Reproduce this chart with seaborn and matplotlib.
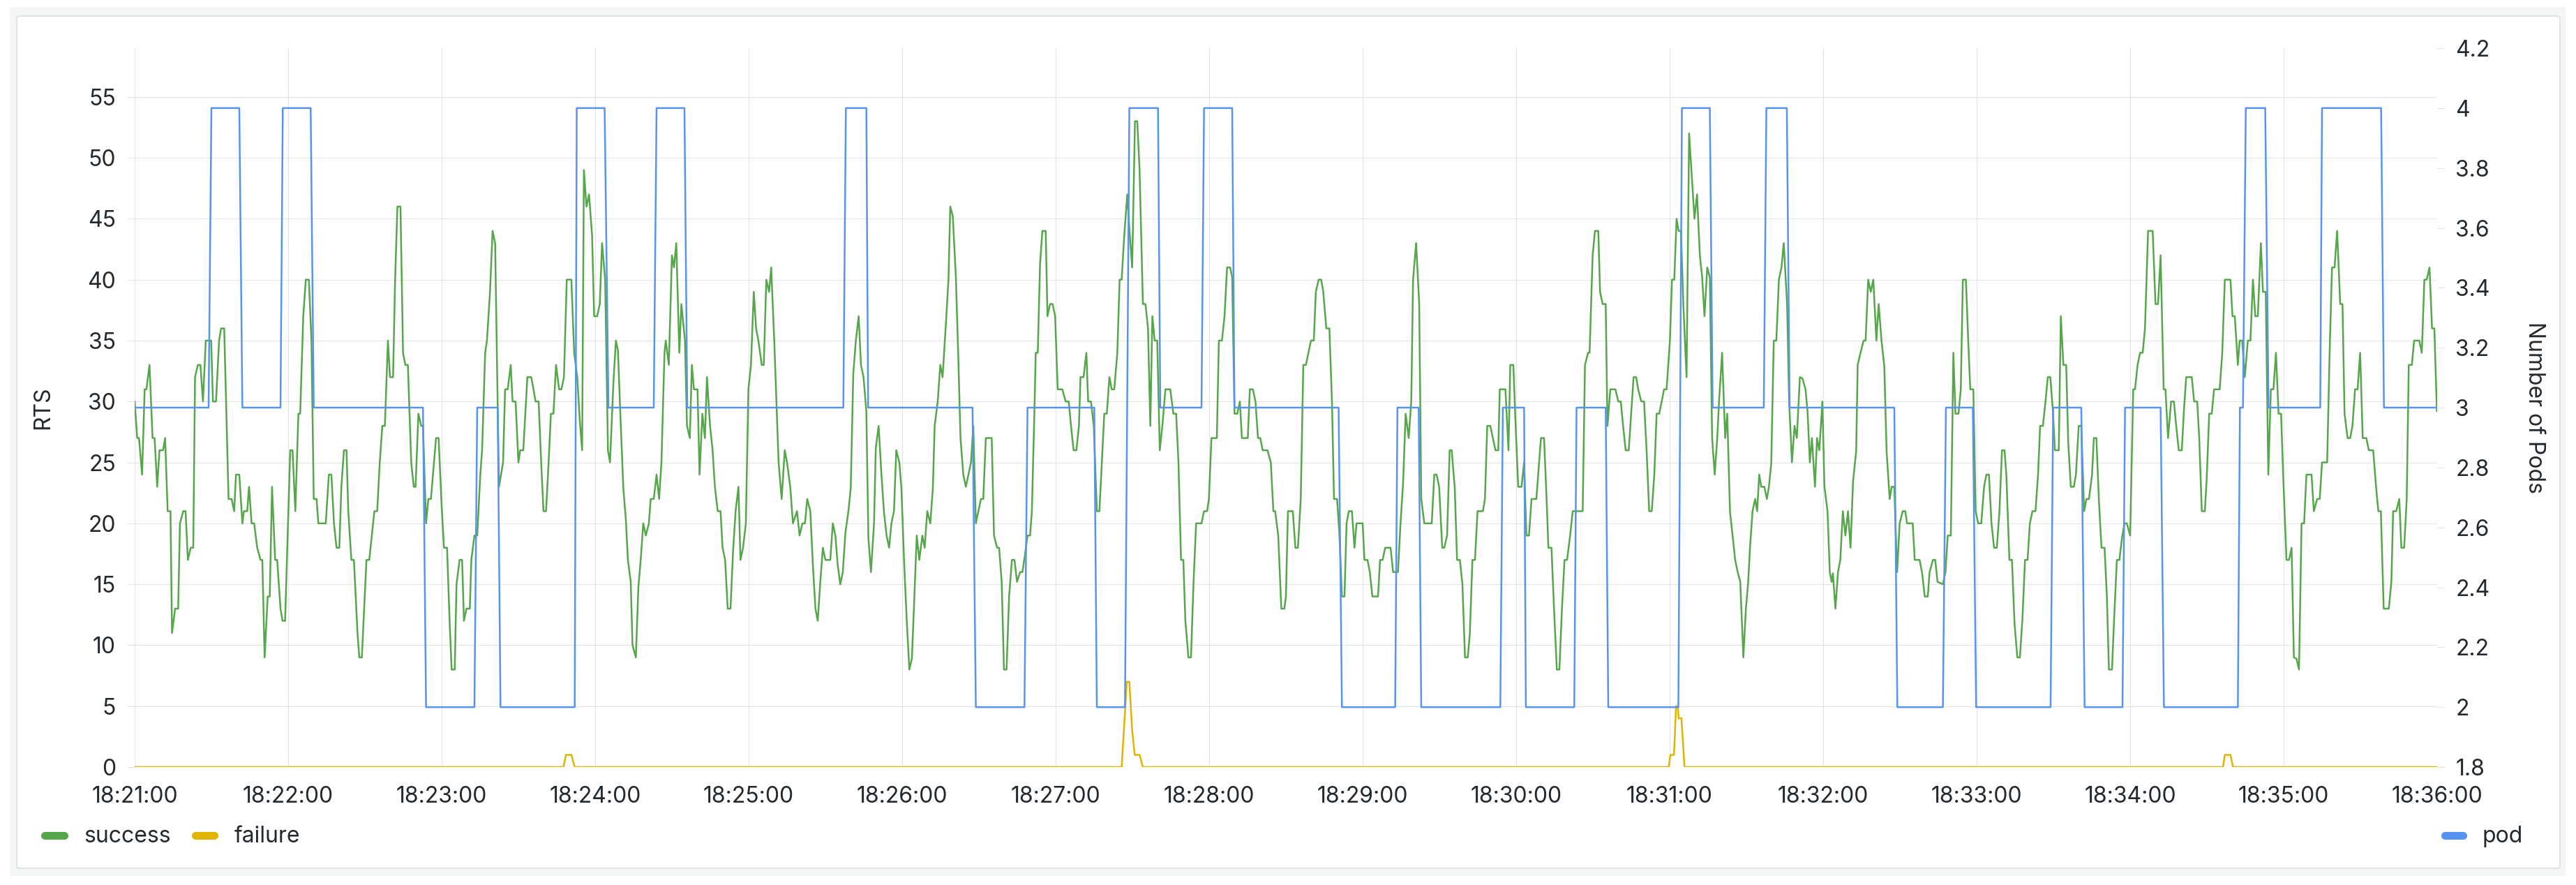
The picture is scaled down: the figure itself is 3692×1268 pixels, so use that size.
import numpy as np
import pandas as pd
import matplotlib
matplotlib.use("Agg")
import matplotlib.pyplot as plt
import matplotlib.dates as mdates
from matplotlib.patches import FancyBboxPatch
from matplotlib.lines import Line2D
from matplotlib.ticker import FixedLocator, FuncFormatter
import seaborn as sns

# ---- data (seconds after 18:21:00) ----
success_sec = [
    0.0, 1.0, 1.7, 2.9, 3.9, 4.6, 5.8, 7.0, 7.8, 8.8, 9.7, 11.1, 11.9, 12.9, 14.0, 14.6,
    15.8, 17.0, 17.7, 19.0, 19.9, 20.8, 21.9, 22.9, 23.6, 24.7, 25.7, 26.7, 27.8, 29.9,
    30.6, 31.8, 33.0, 33.8, 35.0, 36.7, 37.9, 38.9, 39.6, 40.9, 42.1, 42.7, 44.0, 44.7,
    45.7, 46.7, 47.9, 49.2, 49.9, 50.8, 52.0, 52.8, 53.7, 54.9, 55.7, 57.0, 57.8, 58.8,
    60.8, 61.7, 62.8, 64.0, 64.7, 65.9, 66.9, 68.1, 69.1, 70.0, 71.1, 71.8, 74.7, 75.9,
    76.9, 77.9, 78.9, 80.0, 80.8, 81.8, 82.8, 83.5, 84.7, 85.7, 87.1, 87.8, 88.8, 90.6,
    91.7, 92.7, 93.7, 94.8, 95.8, 96.8, 97.8, 99.0, 99.8, 101.0, 101.8, 102.7, 103.9,
    104.9, 105.8, 106.8, 108.1, 109.1, 109.8, 110.9, 112.0, 112.7, 113.9, 114.8, 115.8,
    117.0, 117.8, 118.8, 120.0, 120.9, 122.1, 123.1, 123.9, 125.1, 125.8, 127.0, 128.0,
    128.7, 129.7, 131.0, 131.6, 132.8, 133.9, 135.1, 135.8, 137.0, 137.7, 138.9, 139.9,
    140.9, 142.4, 144.0, 144.8, 145.8, 147.0, 147.7, 148.9, 150.0, 150.7, 151.9,
    153.5, 155.0, 155.9, 156.7, 157.9, 158.9, 159.8, 160.8, 161.8, 162.7, 163.7, 164.7,
    165.9, 166.8, 167.8, 168.9, 170.7, 171.8, 173.0, 174.0, 174.9, 175.6, 176.6, 177.6,
    178.8, 179.6, 180.8, 181.8, 182.7, 183.9, 185.0, 185.8, 187.1, 188.1, 188.9, 189.8,
    191.0, 192.0, 192.8, 193.9, 194.6, 195.9, 196.9, 197.8, 198.8, 199.8, 201.0, 201.7,
    202.9, 204.0, 205.0, 205.9, 207.1, 207.6, 208.8, 210.0, 210.8, 211.7, 212.9, 213.7,
    215.1, 215.9, 217.0, 217.8, 218.6, 220.0, 220.8, 221.9, 222.9, 223.7, 224.9, 225.9,
    226.8, 227.9, 229.0, 229.8, 230.8, 231.8, 232.9, 233.9, 234.9, 236.0, 236.8, 237.8,
    238.9, 239.9, 240.9, 242.0, 242.9, 243.8, 245.1, 245.9, 246.9, 248.0, 248.8, 250.0,
    251.0, 251.7, 252.9, 254.1, 255.0, 256.3, 257.3, 258.9, 259.9, 261.0, 262.0, 262.9,
    264.1, 265.1, 266.1, 267.0, 268.0, 269.0, 270.0, 271.9, 272.9, 273.9, 274.8, 275.8,
    276.8, 277.8, 279.0, 279.9, 280.9, 281.9, 283.0, 283.9, 284.9, 286.0, 286.8, 287.8,
    289.0, 289.7, 290.8, 291.9, 292.9, 293.9, 294.9, 295.8, 296.8, 297.7, 298.9, 299.7,
    300.8,
    301.8, 302.8, 303.8, 304.4, 305.7, 306.7, 307.9, 308.8, 309.8, 311.0, 312.0, 312.7,
    313.9, 314.9, 315.8, 317.1, 318.1, 318.8, 319.8, 321.0, 322.0, 322.8, 323.9, 324.9,
    325.9, 326.9, 327.8, 328.8, 329.8, 330.8, 331.7, 332.7, 335.0, 335.9, 337.1, 337.9,
    338.9, 339.8, 340.8, 341.8, 342.9, 343.9, 344.9, 346.1, 347.0, 348.0, 349.0, 350.0,
    350.7, 351.7, 352.2, 353.0, 353.9, 354.8, 356.1, 356.8, 357.8, 358.8, 359.8, 360.8,
    362.6, 363.9, 365.1, 366.0, 367.0, 368.1, 369.1, 369.7, 370.9, 372.0, 372.7, 373.8,
    374.9, 376.1, 377.1, 378.0, 379.0, 380.0, 381.0, 381.9, 382.9, 384.1, 385.0, 385.8,
    386.8, 388.0, 388.9, 389.9, 391.0, 391.9, 392.8, 394.1, 395.1, 396.1, 397.0, 397.8,
    398.7, 399.7, 400.7, 401.7, 402.9, 404.8, 406.0, 407.1, 408.0, 409.0, 409.9, 410.7,
    411.9, 412.9, 413.9, 414.9, 417.0, 418.0, 419.2, 419.9, 420.9, 423.0, 423.8, 425.0,
    426.0, 427.0, 428.2, 429.0, 429.9, 431.0, 432.0, 432.8, 435.1, 435.9, 437.1, 438.1,
    439.1, 440.0, 440.9, 442.8, 444.1, 445.1, 445.8, 447.0, 448.2, 449.4, 450.0,
    450.8, 452.7, 453.7, 454.7, 455.8, 456.8, 457.8, 458.8, 459.8, 460.9, 461.7, 462.8,
    463.8, 464.6, 465.8, 467.0, 468.0, 468.8, 470.0, 470.9, 471.9, 472.9, 473.7, 474.6,
    475.8, 476.8, 477.6, 480.0, 480.7, 481.9, 482.8, 483.8, 486.0, 486.8, 487.8, 488.8,
    490.9, 491.9, 493.8, 494.8, 495.8, 496.8, 498.0, 499.0, 499.7, 500.9, 502.1, 502.9,
    504.1, 507.0, 508.0, 508.9, 509.9, 511.1, 511.9, 513.0, 514.0, 514.8, 516.0, 516.9,
    518.0, 519.0, 520.0, 521.1, 521.9, 522.9, 523.9, 524.9, 527.0, 527.8, 528.7, 529.9,
    530.9, 531.9, 533.0, 533.6, 535.8, 537.0, 537.7, 538.9, 539.8, 540.8, 542.1, 543.1,
    544.0, 545.0, 546.0, 547.9, 548.6, 549.7, 550.9, 551.9, 552.6, 553.8, 554.8, 555.9,
    556.9, 557.9, 558.9, 559.9, 561.1, 562.1, 566.0, 566.9, 568.1, 568.7, 569.9, 570.8,
    572.1, 572.8, 573.8, 575.0, 575.7, 576.8, 578.8, 579.9, 580.9, 581.8, 582.8, 584.0,
    585.0, 585.9, 586.9, 587.7, 588.9, 590.0, 591.0, 592.0, 593.0, 594.0, 594.9, 595.9,
    596.9, 597.8, 598.8, 600.1, 600.9, 601.8,
    602.7, 603.5, 604.4, 605.4, 606.6, 607.6, 608.5, 609.7, 610.7, 611.8, 612.7, 613.6,
    614.7, 615.7, 616.6, 617.6, 618.6, 619.3, 620.5, 621.7, 622.5, 623.6, 624.6, 625.6,
    626.6, 627.6, 628.8, 629.8, 630.7, 631.4, 632.4, 633.4, 634.2, 635.0, 635.8, 637.0,
    638.0, 638.8, 639.7, 640.7, 641.7, 642.7, 643.7, 644.6, 645.9, 646.7, 647.8, 648.8,
    649.7, 650.9, 651.9, 653.1, 653.9, 654.8, 655.6, 656.8, 657.6, 658.5, 659.7, 660.5,
    661.7, 662.6, 663.3, 663.8, 664.8, 665.8, 666.7, 667.7, 668.7, 669.7, 670.7, 671.7,
    672.9, 673.5, 674.6, 675.8, 676.6, 677.6, 678.6, 679.6, 680.8, 681.7, 682.8, 683.9,
    684.8, 686.0, 686.8, 687.8, 688.9, 689.9, 691.1, 692.1, 692.8, 695.0, 695.8, 697.7,
    698.7, 699.7, 700.9, 701.6, 702.9, 703.8, 704.7, 706.8, 707.8, 708.7, 709.9, 710.9,
    711.7, 712.9, 713.8, 714.6, 715.8, 716.7, 717.5, 718.7, 719.6, 720.6, 721.8, 722.9,
    723.8, 724.8, 725.8, 726.8, 727.9, 728.9, 729.9, 730.9, 731.6, 732.8, 733.8, 734.8,
    735.9, 736.9, 737.9, 738.9, 739.9, 740.8, 741.8, 743.0, 744.0, 744.8, 745.9, 746.9,
    747.8, 748.8, 749.8, 750.6,
    752.1, 752.9, 753.9, 755.0, 755.8, 756.8, 758.0, 758.8, 759.9, 760.9, 762.0, 762.9,
    763.9, 765.1, 765.8, 766.8, 767.8, 768.8, 770.0, 770.9, 771.7, 772.9, 773.7, 774.8,
    775.8, 776.8, 777.8, 778.7, 780.0, 781.2, 781.9, 782.9, 783.9, 784.9, 785.8, 787.0,
    788.8, 789.9, 790.9, 791.9, 793.1, 793.8, 794.8, 796.0, 797.1, 798.0, 799.0, 800.2,
    801.0, 801.9, 804.1, 805.0, 806.2, 807.0, 808.0, 809.2, 809.9, 810.9, 811.9, 812.8,
    815.0, 816.0, 817.0, 819.2, 820.0, 820.9, 822.1, 822.8, 823.8, 824.8, 826.0, 827.0,
    828.0, 828.9, 829.9, 831.1, 831.9, 833.0, 834.0, 835.0, 836.0, 837.0, 838.0, 839.0,
    839.8, 841.1, 842.1, 843.1, 844.0, 845.0, 846.0, 847.0, 848.0, 848.9, 850.9, 851.8,
    853.1, 854.1, 855.0, 857.0, 858.0, 858.9, 859.9, 860.9, 862.1, 863.0, 863.8, 865.0,
    866.0, 866.9, 867.9, 868.9, 869.9, 870.9, 872.3, 873.3, 875.0, 876.0, 877.0, 878.0,
    879.1, 881.1, 882.1, 882.8, 884.0, 885.2, 886.0, 887.1, 888.1, 888.9, 890.1, 891.0,
    893.0, 894.0, 895.0, 895.9, 897.0, 898.0, 898.9, 899.9,
]
success_rts = [
    30, 27, 27, 24, 31, 31, 33, 27, 27, 23, 26, 26, 27, 21, 21, 11,
    13, 13, 20, 21, 21, 17, 18, 18, 32, 33, 33, 30, 35, 35,
    30, 30, 35, 36, 36, 22, 22, 21, 24, 24, 20, 21, 21, 23,
    20, 20, 18, 17, 17, 9, 14, 14, 23, 17, 17, 13, 12, 12,
    26, 26, 21, 29, 29, 37, 40, 40, 35, 22, 22, 20, 20, 24,
    24, 20, 18, 18, 23, 26, 26, 21, 17, 17, 11, 9, 9, 17,
    17, 19, 21, 21, 25, 28, 28, 35, 32, 32, 40, 46, 46,
    34, 33, 33, 25, 23, 23, 29, 28, 28, 20, 22, 22,
    25, 27, 27, 21.4, 18, 18, 12, 8, 8, 15, 17, 17,
    12, 13, 13, 17, 19, 19, 24, 26, 34, 35, 39, 44,
    43, 23, 25, 31, 31, 33, 30, 30, 25, 26, 26,
    32, 32, 31, 30, 30, 25, 21, 21, 25, 29, 29, 33,
    31, 31, 32, 40, 40, 34, 32, 28.4, 26, 49, 46, 47,
    43.6, 37, 37, 38, 43, 40, 26, 25, 31.4, 35, 34.2, 29.2,
    22.9, 20.3, 17, 15.2, 10, 9, 14.8, 17, 20, 19, 20, 22,
    22, 24, 22, 25, 34, 35, 33, 42, 41, 43, 34, 38,
    35, 28, 27, 33, 31, 31, 24, 29, 27, 32, 28, 26,
    23, 21, 21, 18, 17, 13, 13, 17.7, 21, 23, 17, 18,
    20, 31, 33, 39, 36, 35, 33, 33, 40, 39, 41, 35,
    29.2, 25, 22, 26, 25, 22.9, 20, 21, 19, 20, 20, 22,
    21, 16.6, 13, 12, 15.2, 18, 17, 17, 20, 19, 16.6, 15,
    16, 19.2, 21, 22.9, 32.3, 35, 37, 33, 32, 29.2, 18.8, 16,
    20, 26.2, 28, 24, 20.9, 19, 18, 20, 21, 26, 25, 22.9,
    16.6,
    12, 8, 8.9, 12, 19, 17, 19, 18, 21, 20, 22.9, 28,
    30, 33, 32, 36.4, 40, 46, 45.2, 40.2, 33.2, 27, 24, 23,
    24, 25, 28, 20, 21, 22, 22, 27, 27, 19, 18, 18,
    15.2, 8, 8, 14, 17, 17, 15.2, 16, 16, 17.4, 19, 19,
    21, 29.2, 34, 34, 41.3, 44, 44, 37, 38, 38, 37, 31,
    31, 30, 30, 28, 26, 26, 28, 32, 32, 34, 30, 30,
    28, 21, 21, 24.8, 29, 29, 32, 31, 31, 34, 40, 40,
    43.6, 47, 43.9, 41, 53, 53, 49, 38, 38, 36, 28, 37,
    35, 35, 26, 28, 31, 31, 29, 29, 25, 17, 17, 12,
    9, 9, 15.2, 20, 20, 21, 21, 22, 27, 27, 35, 35,
    37, 41, 41, 40.2, 29, 29, 30, 27, 27, 31, 31, 30,
    27, 27, 26, 26, 25, 21, 21, 19, 13, 13, 14,
    21, 21, 18, 18, 22, 33, 33, 34, 35, 35, 39, 40,
    40, 39, 36, 36, 30, 22, 22, 19.2, 14, 14, 20, 21,
    21, 18, 20, 20, 17, 17, 16, 14, 14, 17, 17, 18,
    18, 16, 16, 20, 23.3, 29, 27, 30, 40, 43, 38, 22,
    20, 20, 24, 24, 23, 18, 18, 19, 26, 26, 22.9, 17,
    17, 15, 9, 9, 11, 17, 17, 21, 21, 22, 28, 28,
    27, 26, 26, 31, 31, 26, 33, 33, 28, 23, 23, 25,
    19, 19, 22, 22, 24, 27, 27, 22, 18, 18, 13, 8,
    8, 13, 17, 17, 19, 21, 21, 33, 34, 34, 42, 44,
    44, 39, 38, 38, 28, 31, 31, 30, 30, 28, 26, 26,
    29.2, 32, 32, 31, 30, 30, 25.9, 21, 21, 24, 29, 29,
    30, 31, 31, 35, 40, 40,
    45, 44, 44, 37.7, 32, 52, 49, 45, 47, 42, 40.2, 37,
    41, 40.2, 27, 24, 27, 30, 34, 27, 29, 20.9, 19, 17,
    16, 15.2, 9, 13, 15.2, 18, 21, 22, 21, 24, 23, 23,
    22, 23, 24.9, 35, 35, 40, 41, 43, 38, 30, 25, 28,
    27, 32, 31.9, 31, 29.2, 25, 27, 23, 27, 26, 30, 23,
    21, 16, 15.2, 15.9, 13, 16, 17, 21, 19, 21, 18, 23.5,
    25.9, 33, 34, 35, 35, 40, 39, 40, 35, 38, 35, 32.9,
    25.9, 22, 23, 23, 16, 20, 21, 21, 20, 20, 17, 17,
    15.9, 14, 14, 16, 17, 17, 15.2, 15, 16, 19, 19, 34,
    29, 29, 31, 40, 40, 35, 31, 31, 21, 20, 20, 23,
    24, 24, 20, 18, 18, 21, 26, 26, 24, 17, 17, 11.8,
    9, 9, 12.2, 17, 17, 20, 21, 21, 24, 28, 28, 30,
    32, 32, 29.2, 26,
    26, 37, 33, 33, 26.6, 23, 23, 24, 28, 28, 21, 22,
    22, 24, 27, 27, 21.8, 18, 18, 14, 8, 8, 12, 17,
    17, 18.8, 20, 20, 19, 31, 31, 33, 34, 34, 36, 44,
    44, 38, 38, 42, 31, 31, 27, 30, 30, 28, 26, 26,
    29.2, 32, 32, 30, 30, 27, 21, 21, 23.6, 29, 29, 31,
    31, 34, 40, 40, 37, 37, 33, 35, 35, 32, 35, 35,
    40, 37, 37, 43, 39, 39, 24, 31, 31, 34, 29, 29,
    24, 17, 17, 18, 9, 8.9, 8, 20, 20, 24, 24, 21,
    22, 22, 25, 25, 34.3, 41, 41, 44, 38, 38, 29, 27,
    27, 28, 31, 31, 34, 27, 27, 26, 26, 23.3, 21, 21,
    13, 13, 15.2, 21, 21, 22, 18, 18, 22, 33, 33, 35,
    35, 34, 40, 40, 41, 36, 36, 29.2,
]

failure_sec = [0, 167.6, 168.6, 170.7, 172.0, 385.8, 387.8, 388.8, 389.9, 390.9, 392.8, 394.1,
               599.6, 600.3, 601.7, 602.5, 603.2, 603.5, 604.6, 605.8, 816.3, 817.0, 819.2,
               820.2, 900]
failure_rts = [0, 0, 1, 1, 0, 0, 7, 7, 3, 1, 1, 0,
               0, 1, 1, 5, 5, 4, 4, 0, 0, 1, 1,
               0, 0]

pod_sec = [0, 28.9, 30.0, 40.9, 42.1, 57.0, 57.9, 68.8, 70.0, 112.7, 113.9, 132.8, 133.9,
           141.9, 143.0, 172.0, 172.8, 183.7, 185.2, 202.9, 204.0, 214.9, 216.0, 277.0,
           278.0, 286.0, 286.7, 327.5, 328.8, 347.8, 349.0, 375.1, 376.1, 387.1, 388.8,
           400.0, 400.9, 417.0, 418.0, 429.0, 429.9, 470.6, 471.9, 492.7, 493.6, 501.9,
           502.9, 533.8, 534.8, 543.1, 543.8, 562.7, 563.6, 575.0, 576.0, 603.4, 604.8,
           615.7, 616.8, 636.8, 637.8, 645.8, 646.9, 687.8, 689.0, 706.8, 708.0, 718.5,
           719.8, 748.9, 749.9, 760.9, 762.2, 777.0, 778.0, 791.9, 793.2, 822.1, 822.9,
           824.1, 825.2, 832.8, 834.1, 854.3, 855.0, 878.1, 879.2, 900]
pod_count = [3, 3, 4, 4, 3, 3, 4, 4, 3, 3, 2, 2, 3,
             3, 2, 2, 4, 4, 3, 3, 4, 4, 3, 3,
             4, 4, 3, 3, 2, 2, 3, 3, 2, 2, 4,
             4, 3, 3, 4, 4, 3, 3, 2, 2, 3, 3,
             2, 2, 3, 3, 2, 2, 3, 3, 2, 2, 4,
             4, 3, 3, 4, 4, 3, 3, 2, 2, 3, 3,
             2, 2, 3, 3, 2, 2, 3, 3, 2, 2, 3,
             3, 4, 4, 3, 3, 4, 4, 3, 3]

rts_ticks = list(range(0, 56, 5))
pod_ticks = [1.8, 2.0, 2.2, 2.4, 2.6, 2.8, 3.0, 3.2, 3.4, 3.6, 3.8, 4.0, 4.2]

# ---- styling ----
GREEN = "#56A64B"
YELLOW = "#E0B400"
BLUE = "#5794F2"
GRID = "#e5e5e5"
TEXT = "#24292e"
FS = 23
LW = 1.8

sns.set_style("white")
plt.rcParams["font.family"] = ["Inter", "DejaVu Sans"]
plt.rcParams["axes.unicode_minus"] = False

W, H = 3692, 1268
fig = plt.figure(figsize=(W / 100, H / 100), dpi=100)
fig.patch.set_facecolor("white")

# panel frame (grafana-ish card), kept below the axes
inch = fig.dpi_scale_trans
fig.patches.append(FancyBboxPatch((14 / 100, (H - 1255) / 100), (3677 - 14) / 100, (1255 - 10) / 100,
                                  boxstyle="square,pad=0", transform=inch,
                                  facecolor="#f4f5f5", edgecolor="none", zorder=-3))
fig.patches.append(FancyBboxPatch((24 / 100, (H - 1244) / 100), (3669 - 24) / 100, (1244 - 23) / 100,
                                  boxstyle="round,pad=0,rounding_size=0.04", transform=inch,
                                  facecolor="white", edgecolor="#e3e4e6", linewidth=1.6, zorder=-2))

x0, x1, ytop, ybot = 193, 3493, 69, 1099
ax = fig.add_axes([x0 / W, 1 - ybot / H, (x1 - x0) / W, (ybot - ytop) / H])
ax.set_facecolor("none")
ax2 = ax.twinx()

base = pd.Timestamp("2023-01-01 18:21:00")
df_s = pd.DataFrame({"time": base + pd.to_timedelta(success_sec, unit="s"), "rts": success_rts})
df_f = pd.DataFrame({"time": base + pd.to_timedelta(failure_sec, unit="s"), "rts": failure_rts})
df_p = pd.DataFrame({"time": base + pd.to_timedelta(pod_sec, unit="s"), "pods": pod_count})

sns.lineplot(data=df_s, x="time", y="rts", ax=ax, color=GREEN, linewidth=LW,
             estimator=None, sort=False, zorder=3)
sns.lineplot(data=df_f, x="time", y="rts", ax=ax, color=YELLOW, linewidth=LW,
             estimator=None, sort=False, zorder=3)
sns.lineplot(data=df_p, x="time", y="pods", ax=ax2, color=BLUE, linewidth=LW,
             estimator=None, sort=False, zorder=3)

ax.set_xlim(base, base + pd.Timedelta(seconds=900))
ax.set_ylim(0, 59.0)
ax2.set_ylim(1.8, 4.2)

ax.xaxis.set_major_locator(mdates.MinuteLocator(interval=1))
ax.xaxis.set_major_formatter(mdates.DateFormatter("%H:%M:%S"))
ax.yaxis.set_major_locator(FixedLocator(rts_ticks))
ax2.yaxis.set_major_locator(FixedLocator(pod_ticks))
ax2.yaxis.set_major_formatter(FuncFormatter(lambda v, p: f"{round(v, 1):g}"))

ax.grid(True, color=GRID, linewidth=0.75)
ax2.grid(False)
for a in (ax, ax2):
    for s in a.spines.values():
        s.set_visible(False)

ax.tick_params(axis="x", length=7.5, width=0.75, color=GRID, pad=12,
               labelsize=FS, labelcolor=TEXT)
ax.tick_params(axis="y", length=8, width=0.75, color=GRID, pad=11.5,
               labelsize=FS, labelcolor=TEXT)
ax2.tick_params(axis="y", length=8, width=0.75, color=GRID, pad=11,
                labelsize=FS, labelcolor=TEXT)

ax.set_xlabel("")
ax.set_ylabel("RTS", fontsize=FS, color=TEXT)
ax.yaxis.set_label_coords((61.5 - x0) / (x1 - x0), 0.5)
ax2.set_ylabel("Number of Pods", fontsize=FS, color=TEXT, rotation=270)
ax2.yaxis.set_label_coords((3633 - x0) / (x1 - x0), 0.5)
ax2.yaxis.label.set_va("center")
ax2.yaxis.label.set_ha("center")
ax.yaxis.label.set_va("center")
ax.yaxis.label.set_ha("center")

# legend (grafana bottom legend: left-axis series on the left, right-axis series on the right)
legend_items = [(64, 92, GREEN, 120, "success"), (280, 307, YELLOW, 336, "failure"),
                (3504, 3530, BLUE, 3558, "pod")]
for lx0, lx1, col, tx, label in legend_items:
    fig.add_artist(Line2D([lx0 / 100, lx1 / 100], [(H - 1197) / 100] * 2, transform=inch,
                          color=col, linewidth=8, solid_capstyle="round"))
    fig.text(tx / 100, (H - 1207) / 100, label, transform=inch, fontsize=FS,
             color=TEXT, va="baseline", ha="left")

fig.savefig("out.png", dpi=100, facecolor="white")
